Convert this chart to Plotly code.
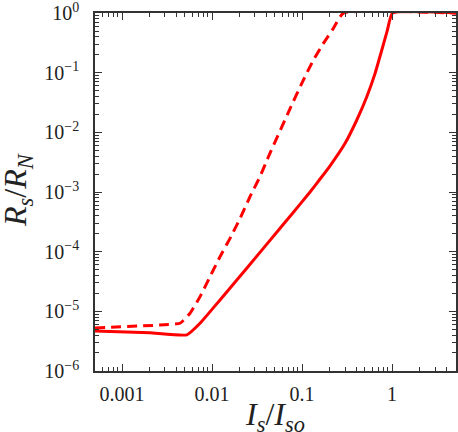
import plotly.graph_objects as go

# solid curve
solid_x = [5.01e-4, 2.04e-3, 5.24e-3, 7.36e-3, 0.01227, 0.0243, 0.0570, 0.0769,
           0.1227, 0.1585, 0.2047, 0.3006, 0.4055, 0.5236, 0.6471, 0.769, 0.887,
           1.01, 5.13]
solid_y = [4.68e-6, 4.37e-6, 4.02e-6, 6.3e-6, 1.55e-5, 5.26e-5, 2.47e-4, 4.23e-4,
           1.0e-3, 1.65e-3, 2.75e-3, 6.55e-3, 0.01611, 0.03954, 0.0975, 0.240,
           0.519, 1.0, 1.0]

# dashed curve
dashed_x = [5.01e-4, 2.64e-3, 4.41e-3, 5.70e-3, 7.36e-3, 9.51e-3, 0.01227, 0.01585,
            0.0205, 0.0264, 0.0341, 0.0423, 0.0736, 0.1033, 0.1336, 0.1726,
            0.2228, 0.288, 5.13]
dashed_y = [5.25e-6, 5.89e-6, 6.3e-6, 9.27e-6, 1.76e-5, 3.81e-5, 8.24e-5, 1.67e-4,
            3.62e-4, 8.34e-4, 1.81e-3, 3.9e-3, 0.025, 0.0754, 0.163, 0.310,
            0.555, 1.0, 1.0]

x_ticks = [0.001, 0.01, 0.1, 1]
x_labels = ["0.001", "0.01", "0.1", "1"]
y_exps = [-6, -5, -4, -3, -2, -1, 0]

FONT = "Liberation Serif"
RED = "#ff0000"
AXIS = "#333333"
TEXT = "#222222"

fig = go.Figure()
fig.add_trace(go.Scatter(x=dashed_x, y=dashed_y, mode="lines",
                         line={"color": RED, "width": 3, "dash": "10px,6px",
                               "shape": "spline", "smoothing": 0.4},
                         showlegend=False))
fig.add_trace(go.Scatter(x=solid_x, y=solid_y, mode="lines",
                         line={"color": RED, "width": 3,
                               "shape": "spline", "smoothing": 0.4},
                         showlegend=False))

minor_x = [m * 10 ** e for e in range(-4, 1) for m in range(2, 10)]
minor_y = [m * 10 ** e for e in range(-7, 0) for m in range(2, 10)]

common = dict(
    type="log", showgrid=False, zeroline=False, showline=True, linecolor=AXIS,
    linewidth=1.5, mirror="allticks", ticks="inside", ticklen=7, tickwidth=1,
    tickcolor=AXIS, tickfont={"family": FONT, "size": 20, "color": TEXT},
    automargin=False, ticklabeloverflow="allow",
)

fig.update_xaxes(
    **common, range=[-3.3, 0.71], tickvals=x_ticks, ticktext=x_labels,
    minor={"tickvals": minor_x, "ticks": "inside", "ticklen": 4, "tickcolor": AXIS},
    ticklabelstandoff=4,
)
fig.update_yaxes(
    **common, range=[-6.001, 0.001],
    tickvals=[10 ** e for e in y_exps],
    ticktext=[f"10<sup>{str(e).replace('-', '−')}</sup>" for e in y_exps],
    minor={"tickvals": minor_y, "ticks": "inside", "ticklen": 4, "tickcolor": AXIS},
    ticklabelstandoff=10,
)
fig.add_annotation(
    text="<i>I<sub>s</sub></i>/<i>I<sub>so</sub></i>", xref="paper", yref="paper",
    x=0.499, y=-0.128, xanchor="center", yanchor="middle", showarrow=False,
    font={"family": FONT, "size": 32, "color": TEXT},
)
fig.add_annotation(
    text="<i>R<sub>s</sub></i>/<i>R<sub>N</sub></i>", xref="paper", yref="paper",
    x=-0.213, y=0.506, xanchor="center", yanchor="middle", showarrow=False,
    textangle=-90, font={"family": FONT, "size": 32, "color": TEXT},
)
fig.update_layout(
    width=458, height=432, margin={"l": 95, "r": 2, "t": 13, "b": 61},
    plot_bgcolor="white", paper_bgcolor="white",
)
# drop the default body margin so the figure fills the window exactly
fig.write_html("out.html", config={"displayModeBar": False},
               post_script="document.body.style.margin='0';")
